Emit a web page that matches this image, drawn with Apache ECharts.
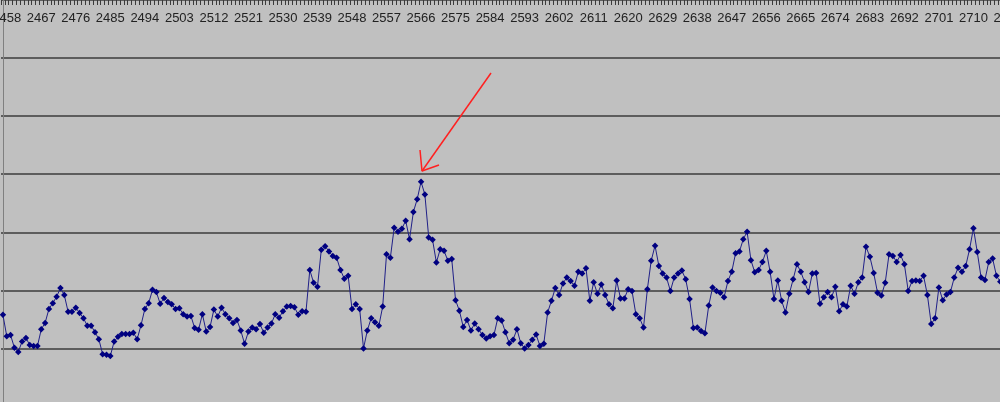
<!DOCTYPE html>
<html>
<head>
<meta charset="utf-8">
<script src="https://cdn.jsdelivr.net/npm/echarts@6.0.0/dist/echarts.min.js"></script>
<style>
html,body{margin:0;padding:0;background:#c0c0c0;overflow:hidden}
#chart{width:1000px;height:402px}
</style>
</head>
<body>
<div id="chart"></div>
<script>
// ---- data ----
const FIRST_CATEGORY = 2457;
const CATEGORY_COUNT = 263;
const categories = [];
for (let k = 0; k < CATEGORY_COUNT; k++) categories.push(String(FIRST_CATEGORY + k));

const values = [
  1.58,1.21,1.23,1.01,0.94,1.12,1.18,1.06,1.04,1.04,
  1.33,1.44,1.68,1.78,1.89,2.04,1.92,1.63,1.63,1.70,
  1.61,1.52,1.39,1.39,1.28,1.16,0.90,0.89,0.87,1.12,
  1.20,1.25,1.25,1.25,1.27,1.16,1.40,1.68,1.78,2.01,
  1.97,1.77,1.87,1.80,1.76,1.68,1.69,1.59,1.55,1.56,
  1.35,1.32,1.59,1.29,1.37,1.67,1.55,1.70,1.59,1.52,
  1.44,1.49,1.31,1.08,1.29,1.36,1.33,1.42,1.27,1.36,
  1.43,1.59,1.53,1.64,1.72,1.73,1.71,1.58,1.64,1.63,
  2.35,2.13,2.06,2.70,2.76,2.67,2.59,2.56,2.35,2.20,
  2.25,1.68,1.76,1.68,1.00,1.31,1.52,1.45,1.39,1.72,
  2.62,2.56,3.08,3.01,3.06,3.20,2.88,3.35,3.57,3.87,
  3.65,2.91,2.87,2.48,2.71,2.68,2.51,2.54,1.83,1.65,
  1.37,1.49,1.31,1.43,1.33,1.23,1.17,1.21,1.23,1.52,
  1.48,1.28,1.09,1.15,1.33,1.09,1.00,1.06,1.15,1.24,
  1.04,1.08,1.62,1.82,2.04,1.92,2.12,2.22,2.16,2.08,
  2.32,2.29,2.38,1.82,2.14,1.94,2.10,1.92,1.76,1.69,
  2.17,1.86,1.86,2.02,1.99,1.59,1.52,1.36,2.02,2.51,
  2.77,2.42,2.29,2.22,1.99,2.22,2.29,2.34,2.19,1.85,
  1.35,1.36,1.30,1.26,1.74,2.05,1.99,1.96,1.88,2.16,
  2.32,2.64,2.67,2.88,3.01,2.52,2.31,2.35,2.49,2.68,
  2.32,1.85,2.17,1.82,1.62,1.94,2.19,2.45,2.32,2.14,
  1.97,2.29,2.30,1.77,1.88,1.97,1.88,2.06,1.64,1.76,
  1.72,2.08,1.94,2.14,2.22,2.75,2.58,2.30,1.96,1.91,
  2.13,2.62,2.59,2.49,2.61,2.45,1.99,2.16,2.17,2.16,
  2.25,1.92,1.42,1.52,2.05,1.83,1.93,1.97,2.22,2.39,
  2.32,2.42,2.71,3.07,2.66,2.22,2.18,2.49,2.55,2.25,
  2.15,null,null
];

const LABEL_EVERY = 9;
const FIRST_LABEL_INDEX = 1;
const Y_MIN = 0, Y_MAX = 7, Y_STEP = 1;

// red annotation arrow (in category-index / value units)
const arrowShaft = [[127.24, 5.743], [109.25, 4.055]];
const arrowHead  = [[108.73, 4.417], [109.25, 4.055], [113.68, 4.159]];

// ---- chart ----
const chart = echarts.init(document.getElementById('chart'), null, {renderer: 'canvas'});
const CAT_W = 3.836;
chart.setOption({
  animation: false,
  backgroundColor: '#c0c0c0',
  grid: {left: 1, top: 0, width: CATEGORY_COUNT * CAT_W, height: 406.5, outerBoundsMode: 'none'},
  xAxis: [{
    type: 'category', position: 'top', data: categories, boundaryGap: true,
    axisLine: {show: true, lineStyle: {color: '#444', width: 1}},
    axisTick: {show: false},
    axisLabel: {
      inside: true, margin: 12, color: '#222', fontSize: 13,
      fontFamily: '"Liberation Sans", Arial, sans-serif',
      interval: function (i) { return (i - FIRST_LABEL_INDEX) % LABEL_EVERY === 0; }
    },
    splitLine: {show: false}
  }, {
    // tick row along the top edge: one short tick per category boundary
    type: 'category', position: 'top', data: categories, boundaryGap: true,
    axisLine: {show: false},
    axisTick: {show: true, inside: true, interval: 0, length: 5, lineStyle: {color: '#3a3a3a', width: 1}},
    axisLabel: {show: false}, splitLine: {show: false}
  }, {
    type: 'value', min: -0.5, max: CATEGORY_COUNT - 0.5, show: false
  }],
  yAxis: {
    type: 'value', min: Y_MIN, max: Y_MAX, interval: Y_STEP,
    axisLine: {show: true, lineStyle: {color: '#808080', width: 1}},
    axisTick: {show: false}, axisLabel: {show: false},
    splitLine: {show: true, lineStyle: {color: '#3c3c3c', width: 1.5}}
  },
  series: [{
    type: 'line', data: values, xAxisIndex: 0,
    symbol: 'diamond', symbolSize: 6.5, showSymbol: true, showAllSymbol: true,
    itemStyle: {color: '#000080'},
    lineStyle: {color: '#202088', width: 1},
    connectNulls: false, z: 3
  }, {
    type: 'line', xAxisIndex: 2, data: arrowShaft, showSymbol: false, symbol: 'none',
    lineStyle: {color: '#ff2020', width: 1.5}, z: 4
  }, {
    type: 'line', xAxisIndex: 2, data: arrowHead, showSymbol: false, symbol: 'none',
    lineStyle: {color: '#ff2020', width: 1.5}, z: 4
  }]
});
</script>
</body>
</html>
